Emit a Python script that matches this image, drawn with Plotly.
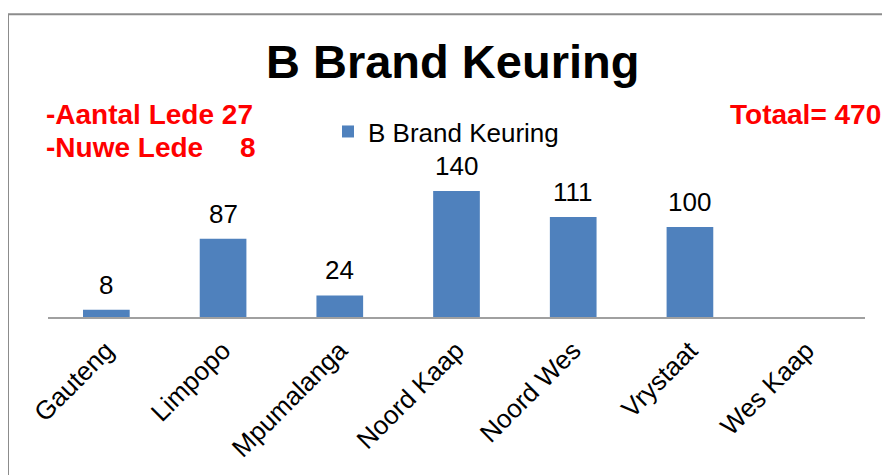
import plotly.graph_objects as go

categories = ["Gauteng", "Limpopo", "Mpumalanga", "Noord Kaap", "Noord Wes", "Vrystaat", "Wes Kaap"]
values = [8, 87, 24, 140, 111, 100, None]
series_name = "B Brand Keuring"
chart_title = "B Brand Keuring"
aantal_lede = 27
nuwe_lede = 8
totaal = 470

# page body has an 8px margin; screen coordinates below are shifted by it
OFF = 8
W, H = 890 - OFF, 475 - OFF
L, R, T = 48 - OFF, 890 - 865, 173 - OFF
B = H - (319 - OFF)
PW = W - L - R
PH = H - T - B

def px_x(px):
    return (px - OFF - L) / PW

def px_y(py):
    return (H - B - (py - OFF)) / PH

FONT = "Arial, Liberation Sans, sans-serif"
RED = "#ff0000"

fig = go.Figure()
fig.add_trace(go.Bar(
    x=categories, y=values, name=series_name,
    marker=dict(color="#4f81bd", line=dict(width=0)),
    showlegend=True,
))

# data labels above each bar
for c, v in zip(categories, values):
    if v is None:
        continue
    fig.add_annotation(x=c, y=v, xref="x", yref="y", text=str(v), showarrow=False,
                       yanchor="bottom", yshift=8,
                       font=dict(family=FONT, size=26, color="#000000"))

fig.update_layout(
    width=W, height=H,
    margin=dict(l=L, r=R, t=T, b=B, pad=0),
    paper_bgcolor="white", plot_bgcolor="white",
    bargap=0.6,
    font=dict(family=FONT, color="#000000"),
    showlegend=True,
    legend=dict(x=px_x(328), y=px_y(131), xanchor="left", yanchor="middle",
                orientation="h", font=dict(family=FONT, size=26, color="#000000"),
                bgcolor="rgba(0,0,0,0)"),
    xaxis=dict(showline=True, linecolor="#a0a0a0", linewidth=2, ticks="",
               tickangle=-45, tickfont=dict(family=FONT, size=26, color="#000000"),
               ticklabelstandoff=6,
               showgrid=False, zeroline=False, fixedrange=True),
    yaxis=dict(range=[0, 160], visible=False, showgrid=False, zeroline=False),
)

anns = [
    dict(text="<b>%s</b>" % chart_title, x=px_x(452), y=px_y(60), xanchor="center", yanchor="middle",
         font=dict(family=FONT, size=47, color="#000000")),
    dict(text="<b>-Aantal Lede %d</b>" % aantal_lede, x=px_x(44), y=px_y(114), xanchor="left", yanchor="middle",
         font=dict(family=FONT, size=28, color=RED)),
    dict(text="<b>-Nuwe Lede</b>", x=px_x(44), y=px_y(147), xanchor="left", yanchor="middle",
         font=dict(family=FONT, size=28, color=RED)),
    dict(text="<b>%d</b>" % nuwe_lede, x=px_x(258), y=px_y(147), xanchor="right", yanchor="middle",
         font=dict(family=FONT, size=28, color=RED)),
    dict(text="<b>Totaal= %d</b>" % totaal, x=px_x(883), y=px_y(114), xanchor="right", yanchor="middle",
         font=dict(family=FONT, size=28, color=RED)),
]
for a in anns:
    fig.add_annotation(xref="paper", yref="paper", showarrow=False, **a)

# chart frame border (top and left edges visible)
fig.add_shape(type="line", xref="paper", yref="paper", x0=px_x(8), x1=px_x(900), y0=px_y(12), y1=px_y(12),
              line=dict(color="#8c8c8c", width=2))
fig.add_shape(type="line", xref="paper", yref="paper", x0=px_x(8), x1=px_x(8), y0=px_y(12), y1=px_y(480),
              line=dict(color="#8c8c8c", width=2))

fig.write_html("out.html")
